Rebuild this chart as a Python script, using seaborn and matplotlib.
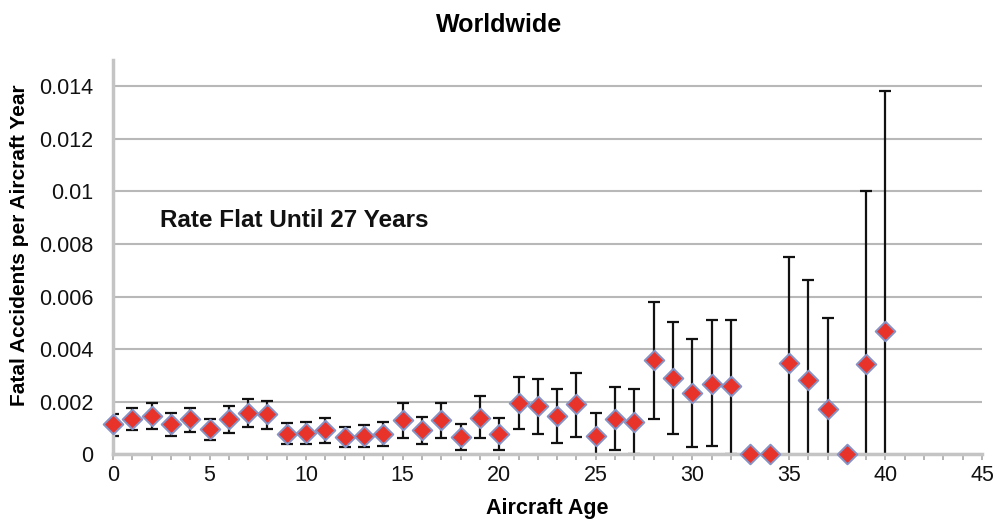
import matplotlib
matplotlib.use("Agg")
import matplotlib.pyplot as plt
from matplotlib.ticker import MultipleLocator
import seaborn as sns
import numpy as np
import pandas as pd

# valores
ages = list(range(41))
rate = [0.00114, 0.00134, 0.00147, 0.00115, 0.00134, 0.00096, 0.00134, 0.00156,
        0.00152, 0.00077, 0.00082, 0.00092, 0.00065, 0.00069, 0.00076, 0.00130,
        0.00092, 0.00130, 0.00065, 0.00139, 0.00077, 0.00194, 0.00183, 0.00145,
        0.00190, 0.00071, 0.00134, 0.00124, 0.00358, 0.00291, 0.00235, 0.00269,
        0.00259, 0.0, 0.0, 0.00349, 0.00282, 0.00172, 0.0, 0.00342, 0.00468]
upper = [0.00152, 0.00177, 0.00194, 0.00156, 0.00177, 0.00134, 0.00183, 0.00209,
         0.00202, 0.00118, 0.00121, 0.00139, 0.00105, 0.00111, 0.00121, 0.00194,
         0.00143, 0.00197, 0.00114, 0.00221, 0.00139, 0.00294, 0.00285, 0.00248,
         0.00311, 0.00156, 0.00257, 0.00248, 0.00579, 0.00503, 0.00440, 0.00510,
         0.00510, np.nan, np.nan, 0.00750, 0.00664, 0.00520, np.nan, 0.01003, 0.01383]
lower = [0.00071, 0.00091, 0.00096, 0.00071, 0.00086, 0.00054, 0.00080, 0.00102,
         0.00096, 0.00038, 0.00039, 0.00044, 0.00027, 0.00027, 0.00033, 0.00063,
         0.00039, 0.00063, 0.00016, 0.00063, 0.00016, 0.00096, 0.00077, 0.00042,
         0.00065, -0.0002, 0.00016, 0.0, 0.00134, 0.00076, 0.00029, 0.00033,
         0.0, np.nan, np.nan, -0.0005, -0.0010, -0.0018, np.nan, -0.0032, -0.0045]
y_ticks = [0, 0.002, 0.004, 0.006, 0.008, 0.01, 0.012, 0.014]
y_tick_labels = ['0', '0.002', '0.004', '0.006', '0.008', '0.01', '0.012', '0.014']

df = pd.DataFrame({'age': ages, 'rate': rate, 'upper': upper, 'lower': lower})

sns.set_style('white')
plt.rcParams['font.family'] = ['Liberation Sans', 'DejaVu Sans']
plt.rcParams['text.color'] = 'black'

fig = plt.figure(figsize=(9.97, 5.22), dpi=100)
ax = fig.add_axes([0.1133, 0.1297, 0.8717, 0.7553])

# barras de error (solo donde hay intervalo)
bars = df.dropna(subset=['upper'])
ax.errorbar(bars['age'], bars['rate'],
            yerr=[bars['rate'] - bars['lower'], bars['upper'] - bars['rate']],
            fmt='none', ecolor='#111111', elinewidth=1.6, capsize=4.2,
            capthick=1.6, zorder=2)

sns.scatterplot(data=df, x='age', y='rate', marker='D', s=100,
                color='#e8332a', edgecolor='#8592c6', linewidth=1.4,
                zorder=3, clip_on=False, ax=ax)

ax.set_xlim(0, 45)
ax.set_ylim(0, 0.015)
ax.xaxis.set_major_locator(MultipleLocator(5))
ax.xaxis.set_minor_locator(MultipleLocator(1))
ax.set_yticks(y_ticks)
ax.set_yticklabels(y_tick_labels)

ax.grid(axis='y', color='#b8b8b8', linewidth=1.5)
ax.set_axisbelow(True)
for s in ['top', 'right']:
    ax.spines[s].set_visible(False)
for s in ['left', 'bottom']:
    ax.spines[s].set_color('#c4c4c4')
    ax.spines[s].set_linewidth(2.5)

ax.tick_params(axis='x', which='both', direction='out', length=4, width=1.3,
               color='#b0b0b0', bottom=True, labelsize=15.5, pad=4,
               labelcolor='#111111')
ax.tick_params(axis='y', length=0, labelsize=15.5, pad=14, labelcolor='#111111')

ax.set_xlabel('Aircraft Age', fontsize=15.5, fontweight='bold', color='black')
ax.xaxis.set_label_coords(0.5, -0.112)
ax.set_ylabel('')
fig.text(20 / 997, 1 - 245 / 522, 'Fatal Accidents per Aircraft Year',
         rotation=90, ha='center', va='center', fontsize=15, fontweight='bold')

fig.text(499 / 997, 1 - 25 / 522, 'Worldwide', ha='center', va='center',
         fontsize=18, fontweight='bold')
ax.text(2.43, 0.00889, 'Rate Flat Until 27 Years', ha='left', va='center',
        fontsize=17.5, fontweight='bold', color='#111111')

fig.savefig('out.png', dpi=100)
